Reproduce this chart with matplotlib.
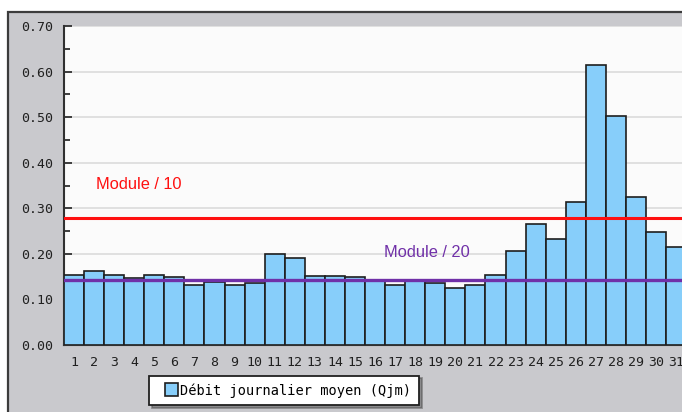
"""Débit journalier moyen (Qjm) par jour du mois, avec module/10 et module/20."""

import matplotlib

matplotlib.use("Agg")
import matplotlib.pyplot as plt
from matplotlib.legend_handler import HandlerPatch
from matplotlib.patches import Rectangle

days = list(range(1, 32))
qjm = [0.153, 0.162, 0.153, 0.146, 0.153, 0.150, 0.131, 0.138, 0.131, 0.136,
       0.199, 0.192, 0.152, 0.152, 0.150, 0.140, 0.131, 0.140, 0.135, 0.125,
       0.132, 0.154, 0.207, 0.266, 0.232, 0.314, 0.614, 0.502, 0.325, 0.247,
       0.214]
module_10 = 0.278
module_20 = 0.143
yticks = [0.0, 0.1, 0.2, 0.3, 0.4, 0.5, 0.6, 0.7]
legend_label = "Débit journalier moyen (Qjm)"

W, H = 682, 412
fig = plt.figure(figsize=(W / 100, H / 100), dpi=100)
fig.patch.set_facecolor("white")

# gray frame around the chart (cut off on the right and bottom)
fig.patches.append(Rectangle((8 / W, -0.1), 1.2, (H - 12) / H + 0.1,
                             transform=fig.transFigure, facecolor="#c9c9cd",
                             edgecolor="#3c3c3c", linewidth=1.6, zorder=-10))

ax = fig.add_axes([64 / W, 1 - 345 / H, 1 - 64 / W, (345 - 26) / H])
ax.set_facecolor("#fbfbfb")

bars = ax.bar(days, qjm, width=1.0, color="#87cefa", edgecolor="#1e1e1e",
              linewidth=1.2, zorder=3)

ax.axhline(module_10, color="#ff1010", linewidth=2.2, zorder=4)
ax.axhline(module_20, color="#7030a8", linewidth=2.4, zorder=4)
ax.text(2.1, 0.352, "Module / 10", color="#ff1010", fontsize=11.8,
        family="Liberation Sans", va="center", zorder=5)
ax.text(16.45, 0.203, "Module / 20", color="#7030a8", fontsize=11.8,
        family="Liberation Sans", va="center", zorder=5)

ax.set_xlim(0.5, 0.5 + (W - 64) / 20.07)
ax.set_ylim(0, 0.70)
ax.set_yticks(yticks)
ax.set_yticklabels([f"{v:.2f}" for v in yticks], family="DejaVu Sans Mono",
                   fontsize=9.5, color="#202020")
ax.set_yticks([v + 0.05 for v in yticks[:-1]], minor=True)
ax.set_xticks(days)
ax.set_xticklabels([str(d) for d in days], family="DejaVu Sans Mono",
                   fontsize=9.5, color="#202020")
ax.tick_params(axis="y", which="major", direction="in", length=6, width=1.3,
               color="#303030", pad=8)
ax.tick_params(axis="y", which="minor", direction="in", length=4, width=1.3,
               color="#303030")
ax.tick_params(axis="x", length=0, pad=8)
ax.yaxis.grid(True, color="#dedede", linewidth=1.3, zorder=0)
ax.set_axisbelow(True)

for side in ("top", "right"):
    ax.spines[side].set_visible(False)
for side in ("left", "bottom"):
    ax.spines[side].set_color("#303030")
    ax.spines[side].set_linewidth(1.5)


def square_right(legend, orig_handle, xdescent, ydescent, width, height, fontsize):
    # square swatch pushed to the right end of the handle box
    return Rectangle((-xdescent + width - height, -ydescent), height, height)


swatch = bars.patches[0]
leg = ax.legend([swatch], [legend_label], loc="lower left",
                bbox_to_anchor=(149 / W, 1 - 405 / H),
                bbox_transform=fig.transFigure, frameon=True, fancybox=False,
                shadow=True, borderpad=0.55, borderaxespad=0,
                handlelength=1.6, handleheight=1.1, handletextpad=0.15,
                handler_map={swatch: HandlerPatch(patch_func=square_right)},
                prop={"family": "DejaVu Sans Mono", "size": 9.8})
leg.get_frame().set_edgecolor("#202020")
leg.get_frame().set_linewidth(1.3)

fig.savefig("out.png", dpi=100)
